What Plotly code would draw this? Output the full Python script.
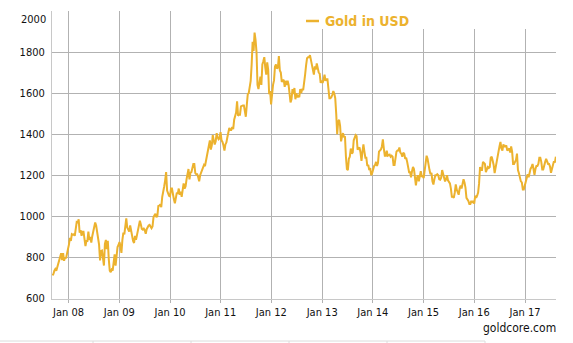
import pandas as pd
import plotly.graph_objects as go

# Weekly gold price (USD/oz), Friday closes, one list per calendar year
gold_2007 = [712, 718, 735, 743, 735, 752, 765, 785, 806, 820, 786, 820, 783, 800, 795, 812, 840]
gold_2008 = [862, 895, 880, 913, 910, 912, 905, 945, 972, 970, 985, 920, 932, 905, 925, 925,
             885, 855, 880, 880, 925, 885, 900, 872, 903, 925, 932, 970, 955, 925, 912, 862,
             785, 830, 833, 800, 760, 865, 885, 840, 880, 790, 735, 728, 740, 735, 795, 815,
             760, 822, 850, 860]
gold_2009 = [875, 855, 822, 885, 920, 912, 942, 990, 945, 935, 925, 955, 925, 895, 880, 870,
             905, 885, 912, 928, 955, 978, 960, 938, 935, 940, 932, 915, 937, 952, 955, 958,
             945, 942, 950, 995, 1005, 1012, 995, 1002, 1050, 1052, 1058, 1045, 1095, 1115, 1145, 1175,
             1215, 1125, 1110, 1100]
gold_2010 = [1097, 1135, 1135, 1095, 1083, 1063, 1090, 1115, 1110, 1135, 1105, 1120, 1095, 1125, 1160, 1135,
             1145, 1180, 1205, 1230, 1180, 1212, 1215, 1230, 1255, 1255, 1210, 1205, 1205, 1190, 1170, 1200,
             1215, 1230, 1237, 1250, 1245, 1275, 1295, 1317, 1345, 1370, 1325, 1346, 1395, 1370, 1350, 1365,
             1405, 1385, 1375, 1380, 1410]
gold_2011 = [1370, 1362, 1345, 1320, 1350, 1360, 1385, 1410, 1430, 1420, 1420, 1435, 1425, 1470, 1485, 1505,
             1560, 1490, 1495, 1495, 1535, 1540, 1540, 1540, 1500, 1485, 1542, 1595, 1600, 1630, 1660, 1740,
             1850, 1805, 1895, 1860, 1800, 1640, 1620, 1650, 1680, 1640, 1740, 1755, 1775, 1725, 1690, 1750,
             1715, 1595, 1610, 1545]
gold_2012 = [1615, 1640, 1662, 1730, 1740, 1720, 1725, 1780, 1710, 1700, 1655, 1662, 1665, 1630, 1660, 1640,
             1660, 1640, 1580, 1555, 1570, 1620, 1595, 1625, 1570, 1600, 1580, 1590, 1580, 1620, 1600, 1620,
             1615, 1670, 1690, 1735, 1770, 1775, 1775, 1785, 1760, 1725, 1710, 1690, 1730, 1715, 1745, 1715,
             1700, 1695, 1650, 1660]
gold_2013 = [1650, 1665, 1690, 1660, 1668, 1668, 1610, 1575, 1575, 1580, 1592, 1610, 1598, 1575, 1500, 1400,
             1460, 1470, 1440, 1365, 1390, 1405, 1385, 1390, 1290, 1230, 1225, 1280, 1290, 1330, 1305, 1310,
             1370, 1390, 1395, 1390, 1325, 1330, 1335, 1310, 1270, 1315, 1350, 1315, 1285, 1285, 1245, 1250,
             1225, 1235, 1200, 1210]
gold_2014 = [1235, 1245, 1250, 1265, 1245, 1260, 1315, 1320, 1325, 1340, 1375, 1330, 1295, 1295, 1320, 1295,
             1300, 1300, 1290, 1295, 1290, 1250, 1250, 1275, 1315, 1320, 1320, 1335, 1310, 1305, 1290, 1310,
             1305, 1280, 1285, 1265, 1235, 1215, 1215, 1190, 1220, 1240, 1230, 1165, 1150, 1185, 1200, 1170,
             1195, 1220, 1195, 1195]
gold_2015 = [1186, 1215, 1265, 1295, 1280, 1235, 1225, 1205, 1212, 1170, 1155, 1180, 1200, 1200, 1205, 1200,
             1180, 1178, 1188, 1225, 1205, 1190, 1170, 1180, 1200, 1175, 1165, 1160, 1135, 1095, 1095, 1090,
             1115, 1155, 1130, 1120, 1105, 1135, 1150, 1135, 1155, 1180, 1165, 1140, 1090, 1085, 1075, 1060,
             1060, 1075, 1065, 1075]
gold_2016 = [1062, 1100, 1090, 1100, 1115, 1160, 1240, 1225, 1225, 1265, 1260, 1255, 1215, 1225, 1240, 1235,
             1240, 1285, 1290, 1270, 1250, 1210, 1240, 1275, 1295, 1315, 1340, 1362, 1330, 1320, 1350, 1340,
             1340, 1345, 1320, 1325, 1330, 1310, 1340, 1315, 1255, 1255, 1265, 1275, 1305, 1225, 1210, 1180,
             1170, 1165, 1130, 1130, 1150]
gold_2017 = [1175, 1195, 1205, 1190, 1215, 1232, 1240, 1255, 1230, 1202, 1230, 1245, 1245, 1255, 1285, 1285,
             1265, 1228, 1228, 1255, 1265, 1280, 1270, 1255, 1255, 1242, 1212, 1230, 1255, 1268, 1262, 1290]

first_week = "2007-09-07"
tick_years = list(range(2008, 2018))
tick_labels = [f"Jan {y % 100:02d}" for y in tick_years]
y_ticks = [600, 800, 1000, 1200, 1400, 1600, 1800]
series_name = "Gold in USD"
source_text = "goldcore.com"

prices = (gold_2007 + gold_2008 + gold_2009 + gold_2010 + gold_2011 + gold_2012
          + gold_2013 + gold_2014 + gold_2015 + gold_2016 + gold_2017)
dates = pd.date_range(first_week, periods=len(prices), freq="7D")

GOLD = "#ECB22E"
GRID = "#b2b2b2"
FONT = "'DejaVu Sans Condensed', 'Liberation Sans', sans-serif"

W, H = 573, 343
ML, MR, MT, MB = 52, 17, 11, 44
PW, PH = W - ML - MR, H - MT - MB


def px(x):
    return (x - ML) / PW


def py(y):
    return (H - MB - y) / PH


fig = go.Figure()
fig.add_trace(go.Scatter(
    x=dates, y=prices, mode="lines", name=series_name,
    line=dict(color=GOLD, width=2), showlegend=False,
))

shapes = [
    # white panel behind the series key
    dict(type="rect", xref="paper", yref="paper", x0=px(296), x1=px(558), y0=py(29), y1=py(10),
         fillcolor="white", line=dict(width=0), layer="above"),
    # key swatch
    dict(type="line", xref="paper", yref="paper", x0=px(306), x1=px(319), y0=py(21), y1=py(21),
         line=dict(color=GOLD, width=2.5), layer="above"),
    # faint footer rule
    dict(type="line", xref="paper", yref="paper", x0=px(0), x1=px(485), y0=py(341), y1=py(341),
         line=dict(color="#dcdcdc", width=1)),
]
for sx in [93, 191, 289, 387, 485]:
    shapes.append(dict(type="line", xref="paper", yref="paper", x0=px(sx), x1=px(sx),
                       y0=py(341), y1=py(343.5), line=dict(color="#dcdcdc", width=1)))

annotations = [
    dict(text=f"<b>{series_name}</b>", xref="paper", yref="paper", x=px(323), y=py(21),
         xanchor="left", yanchor="middle", showarrow=False,
         font=dict(family=FONT, size=14, color=GOLD)),
    dict(text="2000", xref="paper", yref="paper", x=px(48), y=py(19),
         xanchor="right", yanchor="middle", showarrow=False,
         font=dict(family=FONT, size=11, color="#111")),
    dict(text=source_text, xref="paper", yref="paper", x=px(558), y=py(328),
         xanchor="right", yanchor="middle", showarrow=False,
         font=dict(family=FONT, size=12, color="#111")),
]

fig.update_layout(
    width=W, height=H,
    margin=dict(l=ML, r=MR, t=MT, b=MB, pad=0),
    paper_bgcolor="white", plot_bgcolor="white",
    font=dict(family=FONT, size=11, color="#111"),
    shapes=shapes, annotations=annotations,
    xaxis=dict(
        type="date", range=["2007-09-04", "2017-08-12"],
        tickvals=[f"{y}-01-01" for y in tick_years], ticktext=tick_labels,
        showgrid=True, gridcolor=GRID, gridwidth=1,
        ticks="outside", ticklen=3, tickcolor=GRID,
        showline=True, linecolor="#c8c8c8", linewidth=1,
        zeroline=False, tickfont=dict(size=11),
    ),
    yaxis=dict(
        range=[597, 2000], tickvals=y_ticks,
        showgrid=True, gridcolor=GRID, gridwidth=1,
        ticks="", ticklabelstandoff=4,
        showline=True, linecolor="#c8c8c8", linewidth=1,
        zeroline=False, tickfont=dict(size=11),
    ),
)

fig.write_html("out.html")
